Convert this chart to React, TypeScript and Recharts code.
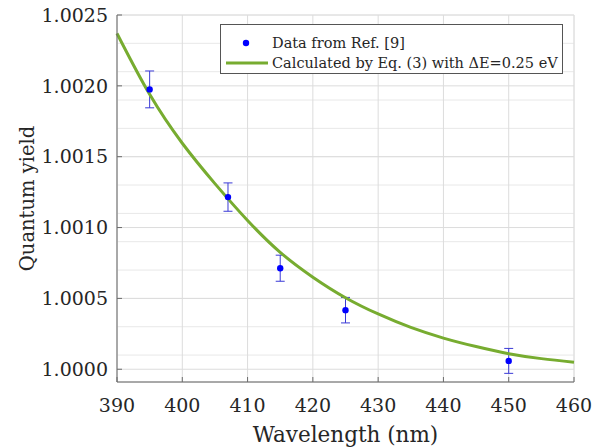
import { ComposedChart, Line, Scatter, ErrorBar, XAxis, YAxis, CartesianGrid } from "recharts";

const wavelengths = [395, 407, 415, 425, 450];
const measured = [1.001975, 1.001215, 1.000713, 1.000417, 1.000059];
const measuredErr = [0.00013, 0.0001, 0.000092, 0.00009, 0.000088];

const curveWavelengths = [390, 395, 400, 405, 410, 415, 420, 425, 430, 435, 440, 445, 450, 455, 460];
const curveValues = [
    1.00237, 1.00194, 1.001595, 1.00131, 1.00105, 1.000825, 1.00065, 1.000505, 1.00039, 1.000295, 1.00022,
    1.00016, 1.00011, 1.000075, 1.00005,
];

const xTicks = [390, 400, 410, 420, 430, 440, 450, 460];
const yTicks = [1.0, 1.0005, 1.001, 1.0015, 1.002, 1.0025];

const xDomain = [390, 460];
const yDomain = [0.99991, 1.0025];

const minorX: number[] = [];
for (let v = 390; v <= 460; v += 2) minorX.push(v);
const minorY: number[] = [];
for (let i = 0; i <= 25; i++) minorY.push(Number((1 + i * 0.0001).toFixed(4)));

const points = wavelengths.map((x, i) => ({ x, y: measured[i], err: measuredErr[i] }));
const curve = curveWavelengths.map((x, i) => ({ x, y: curveValues[i] }));

// Liberation Serif does not resolve here, DejaVu Serif does
const FONT = "DejaVu Serif";
const TEXT = "#262626";
const AXIS = "#6b6b6b";

const Dot = (props: any) => <circle cx={props.cx} cy={props.cy} r={3.2} fill="#0000ff" />;

function LegendBox() {
    return (
        <div
            style={{
                position: "absolute",
                left: 220,
                top: 24,
                width: 341,
                height: 48,
                background: "#fff",
                border: "1px solid #555",
                fontFamily: FONT,
                fontSize: 14.5,
                color: TEXT,
            }}
        >
            <svg width={50} height={48} style={{ position: "absolute", left: 0, top: 0 }}>
                <circle cx={25} cy={18} r={3.2} fill="#0000ff" />
                <line x1={5} x2={47} y1={38} y2={38} stroke="#77ac30" strokeWidth={3} />
            </svg>
            <div style={{ position: "absolute", left: 51, top: 7, lineHeight: "22px", whiteSpace: "nowrap" }}>
                Data from Ref. [9]
            </div>
            <div style={{ position: "absolute", left: 51, top: 27, lineHeight: "22px", whiteSpace: "nowrap" }}>
                Calculated by Eq. (3) with ΔE=0.25 eV
            </div>
        </div>
    );
}

export default function App() {
    return (
        <div style={{ position: "absolute", left: 0, top: 0, width: 601, height: 447, background: "#fff" }}>
            <ComposedChart width={601} height={447} margin={{ top: 15, right: 27, left: 0, bottom: 0 }}>
                <XAxis xAxisId="minor" type="number" dataKey="x" domain={xDomain} ticks={minorX} hide />
                <YAxis yAxisId="minor" type="number" domain={yDomain} ticks={minorY} hide allowDataOverflow />
                <CartesianGrid xAxisId="minor" yAxisId="minor" stroke="#e8e8e8" strokeWidth={1} />
                <CartesianGrid stroke="#dcdcdc" strokeWidth={1} />
                <XAxis
                    type="number"
                    dataKey="x"
                    domain={xDomain}
                    ticks={xTicks}
                    height={65}
                    tickSize={-5}
                    tickMargin={22}
                    stroke={AXIS}
                    tick={{ fill: TEXT, fontFamily: FONT, fontSize: 19 }}
                    label={{
                        value: "Wavelength (nm)",
                        position: "insideBottom",
                        offset: 5,
                        fill: TEXT,
                        fontFamily: FONT,
                        fontSize: 21.5,
                    }}
                />
                <XAxis
                    xAxisId="top"
                    orientation="top"
                    type="number"
                    dataKey="x"
                    domain={xDomain}
                    ticks={xTicks}
                    height={0}
                    tickSize={-5}
                    stroke={AXIS}
                    tick={() => <g />}
                />
                <YAxis
                    type="number"
                    domain={yDomain}
                    ticks={yTicks}
                    width={117}
                    allowDataOverflow
                    tickSize={-5}
                    tickMargin={14}
                    stroke={AXIS}
                    tickFormatter={(v: number) => v.toFixed(4)}
                    tick={{ fill: TEXT, fontFamily: FONT, fontSize: 19 }}
                    label={{
                        value: "Quantum yield",
                        angle: -90,
                        position: "insideLeft",
                        offset: 27,
                        textAnchor: "middle",
                        fill: TEXT,
                        fontFamily: FONT,
                        fontSize: 19.5,
                    }}
                />
                <YAxis
                    yAxisId="right"
                    orientation="right"
                    type="number"
                    domain={yDomain}
                    ticks={yTicks}
                    width={0}
                    allowDataOverflow
                    tickSize={-5}
                    stroke={AXIS}
                    tick={() => <g />}
                />
                <Scatter data={points} dataKey="y" shape={Dot} isAnimationActive={false}>
                    <ErrorBar dataKey="err" direction="y" width={4.5} stroke="#3a3ad6" strokeWidth={1} />
                </Scatter>
                <Line
                    data={curve}
                    dataKey="y"
                    type="natural"
                    stroke="#77ac30"
                    strokeWidth={3}
                    dot={false}
                    isAnimationActive={false}
                />
            </ComposedChart>
            <LegendBox />
        </div>
    );
}
